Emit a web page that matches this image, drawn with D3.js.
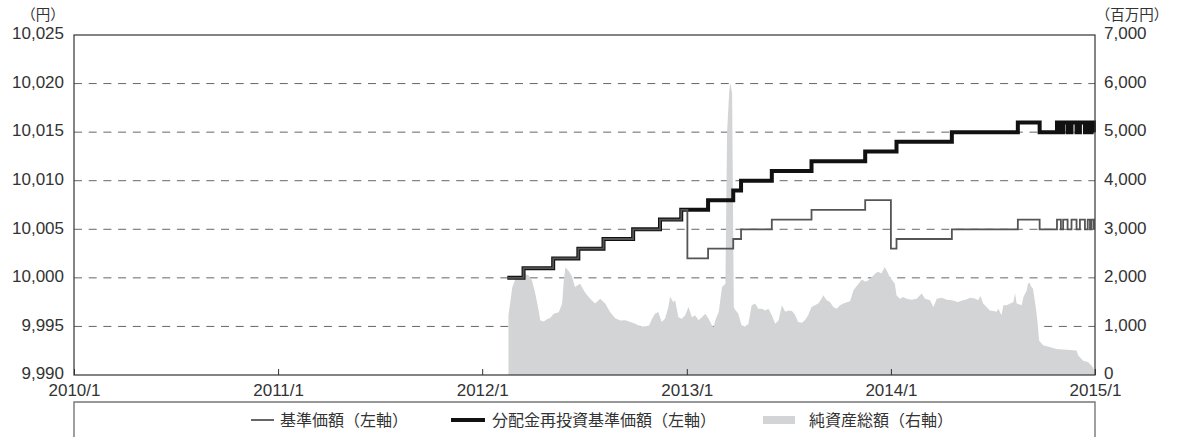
<!DOCTYPE html>
<html>
<head>
<meta charset="utf-8">
<script src="https://cdn.jsdelivr.net/npm/d3@7"></script>
<style>
  body { margin: 0; background: #fff; }
  text { font-family: "Liberation Sans", Arial, sans-serif; fill: #333; }
  .jp { font-family: "Noto Sans CJK JP", sans-serif; }
</style>
</head>
<body>
<script>
// ---------------------- data ----------------------
// change points of the two NAV series (yen), drawn as steps
var navDates = ["2012-02-15","2012-03-15","2012-05-07","2012-06-21","2012-08-05","2012-09-27","2012-11-14","2012-12-22",
  "2013-01-02","2013-02-08","2013-03-25","2013-04-08","2013-06-02","2013-08-12","2013-11-16",
  "2014-01-01","2014-01-11","2014-04-20","2014-08-16","2014-09-24","2014-10-25","2014-11-01","2014-11-05","2014-11-13",
  "2014-11-20","2014-11-29","2014-12-05","2014-12-14","2014-12-19","2014-12-23","2014-12-26","2014-12-30"];
var navValues = [10000,10001,10002,10003,10004,10005,10006,10007,
  10002,10003,10004,10005,10006,10007,10008,
  10003,10004,10005,10006,10005,10006,10005,10006,10005,
  10006,10005,10006,10005,10006,10005,10006,10005];
var reinvValues = [10000,10001,10002,10003,10004,10005,10006,10007,
  10007,10008,10009,10010,10011,10012,10013,
  10013,10014,10015,10016,10015,10016,10015,10016,10015,
  10016,10015,10016,10015,10016,10015,10016,10015];

// net assets (million yen)
var assetDates = ["2012-02-17","2012-02-24","2012-03-01","2012-03-07","2012-03-13","2012-03-18","2012-03-24","2012-03-30",
  "2012-04-05","2012-04-11","2012-04-14","2012-04-20","2012-04-26","2012-05-02","2012-05-08","2012-05-17","2012-05-23",
  "2012-05-26","2012-05-29","2012-06-03","2012-06-09","2012-06-15","2012-06-24","2012-07-03","2012-07-12","2012-07-21",
  "2012-07-30","2012-08-08","2012-08-17","2012-08-26","2012-09-04","2012-09-13","2012-09-22","2012-10-01","2012-10-10",
  "2012-10-19","2012-10-25","2012-10-31","2012-11-05","2012-11-11","2012-11-17","2012-11-23","2012-11-29","2012-12-02",
  "2012-12-08","2012-12-11","2012-12-17","2012-12-23","2012-12-29",
  "2013-01-04","2013-01-10","2013-01-16","2013-01-22","2013-01-28","2013-02-03","2013-02-09","2013-02-15","2013-02-18",
  "2013-02-21","2013-02-27","2013-03-05","2013-03-11","2013-03-14","2013-03-18","2013-03-20","2013-03-23","2013-03-26",
  "2013-03-28","2013-04-03","2013-04-09","2013-04-15","2013-04-21","2013-04-27","2013-05-03","2013-05-09","2013-05-15",
  "2013-05-21","2013-05-27","2013-06-02","2013-06-08","2013-06-14","2013-06-20","2013-06-26","2013-07-02","2013-07-08",
  "2013-07-14","2013-07-19","2013-07-26","2013-07-31","2013-08-06","2013-08-12","2013-08-18","2013-08-24","2013-08-30",
  "2013-09-02","2013-09-08","2013-09-14","2013-09-20","2013-09-26","2013-10-02","2013-10-08","2013-10-14","2013-10-20",
  "2013-10-26","2013-11-04","2013-11-10","2013-11-16","2013-11-22","2013-11-28","2013-12-04","2013-12-09","2013-12-15",
  "2013-12-21","2013-12-24","2013-12-30",
  "2014-01-08","2014-01-11","2014-01-17","2014-01-23","2014-01-29","2014-02-07","2014-02-16","2014-02-25","2014-03-03",
  "2014-03-12","2014-03-18","2014-03-24","2014-04-02","2014-04-11","2014-04-20","2014-05-01","2014-05-10","2014-05-16",
  "2014-05-22","2014-05-31","2014-06-06","2014-06-10","2014-06-15","2014-06-21","2014-06-27","2014-07-03","2014-07-09",
  "2014-07-12","2014-07-18","2014-07-21","2014-07-27","2014-08-02","2014-08-08","2014-08-11","2014-08-14","2014-08-23",
  "2014-08-26","2014-09-01","2014-09-03","2014-09-06","2014-09-09","2014-09-12","2014-09-17","2014-09-20","2014-09-23",
  "2014-09-30","2014-10-12","2014-10-24","2014-11-11","2014-11-29","2014-12-02","2014-12-11","2014-12-20","2014-12-26",
  "2014-12-31"];
var assetValues = [1230,1810,1990,2050,1990,2080,2050,1950,
  1680,1330,1120,1100,1150,1180,1260,1290,1470,
  1950,2220,2150,2050,1810,1880,1700,1570,1470,
  1570,1470,1290,1170,1120,1125,1090,1055,1000,
  1005,1010,1160,1260,1295,1090,1160,1400,1610,
  1500,1540,1190,1160,1230,
  1400,1190,1230,1125,1190,1260,1160,1020,985,
  1125,1295,1810,1880,5000,5870,6010,5800,1400,
  1350,1265,1020,1000,1050,1435,1470,1365,1365,
  1330,1365,1230,1055,1120,1435,1300,1330,1320,
  1230,1090,1075,1125,1230,1400,1435,1470,1570,
  1640,1540,1505,1400,1365,1435,1470,1500,1520,
  1745,1880,1965,1920,1950,2020,2090,2125,2090,
  2225,2160,2020,
  1880,1640,1570,1605,1570,1550,1570,1680,1570,
  1540,1400,1570,1590,1550,1540,1505,1540,1555,
  1590,1575,1540,1625,1470,1400,1330,1320,1300,
  1365,1230,1435,1435,1470,1500,1680,1470,1435,
  1605,1745,1880,1900,1815,1780,1400,1120,710,
  610,575,535,520,505,400,295,260,190,
  100];

var leftTicks = [9990, 9995, 10000, 10005, 10010, 10015, 10020, 10025];
var rightTicks = [0, 1000, 2000, 3000, 4000, 5000, 6000, 7000];
var yearTicks = ["2010-01-01","2011-01-01","2012-01-01","2013-01-01","2014-01-01","2015-01-01"];
var legendNames = ["基準価額（左軸）", "分配金再投資基準価額（左軸）", "純資産総額（右軸）"];

// ---------------------- chart ----------------------
var parse = d3.timeParse("%Y-%m-%d");
var L = 74, R = 1095, T = 35, B = 375;

var svg = d3.select("body").append("svg")
    .attr("width", 1177)
    .attr("height", 437);

var x = d3.scaleTime()
    .domain([parse("2010-01-01"), parse("2015-01-01")])
    .range([L, R]);
var yL = d3.scaleLinear().domain([9990, 10025]).range([B, T]);
var yR = d3.scaleLinear().domain([0, 7000]).range([B, T]);

// dashed gridlines
svg.append("g")
    .selectAll("line")
    .data(leftTicks.slice(1, -1))
    .enter().append("line")
    .attr("x1", L).attr("x2", R)
    .attr("y1", d => yL(d)).attr("y2", d => yL(d))
    .attr("stroke", "#666")
    .attr("stroke-width", 1)
    .attr("stroke-dasharray", "8,6.7");

// net asset area
var assets = assetDates.map((d, i) => ({ date: parse(d), value: assetValues[i] }));
svg.append("path")
    .datum(assets)
    .attr("fill", "#d3d4d5")
    .attr("d", d3.area()
        .x(d => x(d.date))
        .y0(yR(0))
        .y1(d => yR(d.value)));

// NAV lines
var reinv = navDates.map((d, i) => ({ date: parse(d), value: reinvValues[i] }));
var nav = navDates.map((d, i) => ({ date: parse(d), value: navValues[i] }));
var stepLine = d3.line()
    .curve(d3.curveStepAfter)
    .x(d => x(d.date))
    .y(d => yL(d.value));

svg.append("path")
    .datum(reinv)
    .attr("fill", "none")
    .attr("stroke", "#111")
    .attr("stroke-width", 4)
    .attr("d", stepLine);

svg.append("path")
    .datum(nav)
    .attr("fill", "none")
    .attr("stroke", "#555")
    .attr("stroke-width", 1.8)
    .attr("d", stepLine);

// frame
svg.append("rect")
    .attr("x", L).attr("y", T)
    .attr("width", R - L).attr("height", B - T)
    .attr("fill", "none")
    .attr("stroke", "#333")
    .attr("stroke-width", 1.2);

// axes
var years = yearTicks.map(parse);
svg.append("g")
    .attr("transform", "translate(0," + B + ")")
    .call(d3.axisBottom(x).tickValues(years).tickSize(-6).tickFormat(""))
    .call(g => g.select(".domain").remove())
    .call(g => g.selectAll("line").attr("stroke", "#333"));

svg.append("g")
    .attr("transform", "translate(0," + B + ")")
    .call(d3.axisBottom(x).tickValues(years).tickSize(0).tickPadding(9)
        .tickFormat(d3.timeFormat("%Y/%-m")))
    .call(g => g.select(".domain").remove())
    .call(g => g.selectAll("text")
        .style("font-size", "17px")
        .style("font-family", "Liberation Sans, Arial, sans-serif")
        .attr("fill", "#3a3a3a"));

svg.append("g")
    .attr("transform", "translate(" + L + ",0)")
    .call(d3.axisLeft(yL).tickValues(leftTicks).tickSize(0).tickPadding(10)
        .tickFormat(d3.format(",")))
    .call(g => g.select(".domain").remove())
    .call(g => g.selectAll("text")
        .attr("dy", "0.22em")
        .style("font-size", "17px")
        .style("font-family", "Liberation Sans, Arial, sans-serif")
        .attr("fill", "#3a3a3a"));

svg.append("g")
    .attr("transform", "translate(" + R + ",0)")
    .call(d3.axisRight(yR).tickValues(rightTicks).tickSize(0).tickPadding(9)
        .tickFormat(d3.format(",")))
    .call(g => g.select(".domain").remove())
    .call(g => g.selectAll("text")
        .attr("dy", "0.22em")
        .style("font-size", "17px")
        .style("font-family", "Liberation Sans, Arial, sans-serif")
        .attr("fill", "#3a3a3a"));

// unit labels
svg.append("text").attr("class", "jp")
    .attr("x", 43).attr("y", 20)
    .attr("text-anchor", "middle")
    .style("font-size", "14.5px")
    .text("（円）");
svg.append("text").attr("class", "jp")
    .attr("x", 1132).attr("y", 20)
    .attr("text-anchor", "middle")
    .style("font-size", "14.5px")
    .text("（百万円）");

// legend box
var LT = 402;
svg.append("path")
    .attr("d", "M" + L + ",437V" + LT + "H" + R + "V437")
    .attr("fill", "none")
    .attr("stroke", "#777")
    .attr("stroke-width", 1.4);

var ly = 420;
var lg = svg.append("g");
lg.append("line")
    .attr("x1", 251).attr("x2", 274).attr("y1", ly).attr("y2", ly)
    .attr("stroke", "#555").attr("stroke-width", 1.8);
lg.append("text").attr("class", "jp")
    .attr("x", 280).attr("y", ly).attr("dy", "0.35em")
    .style("font-size", "16px")
    .text(legendNames[0]);
lg.append("line")
    .attr("x1", 451).attr("x2", 485).attr("y1", ly).attr("y2", ly)
    .attr("stroke", "#111").attr("stroke-width", 4);
lg.append("text").attr("class", "jp")
    .attr("x", 492).attr("y", ly).attr("dy", "0.35em")
    .style("font-size", "16px")
    .text(legendNames[1]);
lg.append("rect")
    .attr("x", 763).attr("y", ly - 4).attr("width", 32).attr("height", 8)
    .attr("fill", "#d3d4d5");
lg.append("text").attr("class", "jp")
    .attr("x", 809).attr("y", ly).attr("dy", "0.35em")
    .style("font-size", "16px")
    .text(legendNames[2]);
</script>
</body>
</html>
